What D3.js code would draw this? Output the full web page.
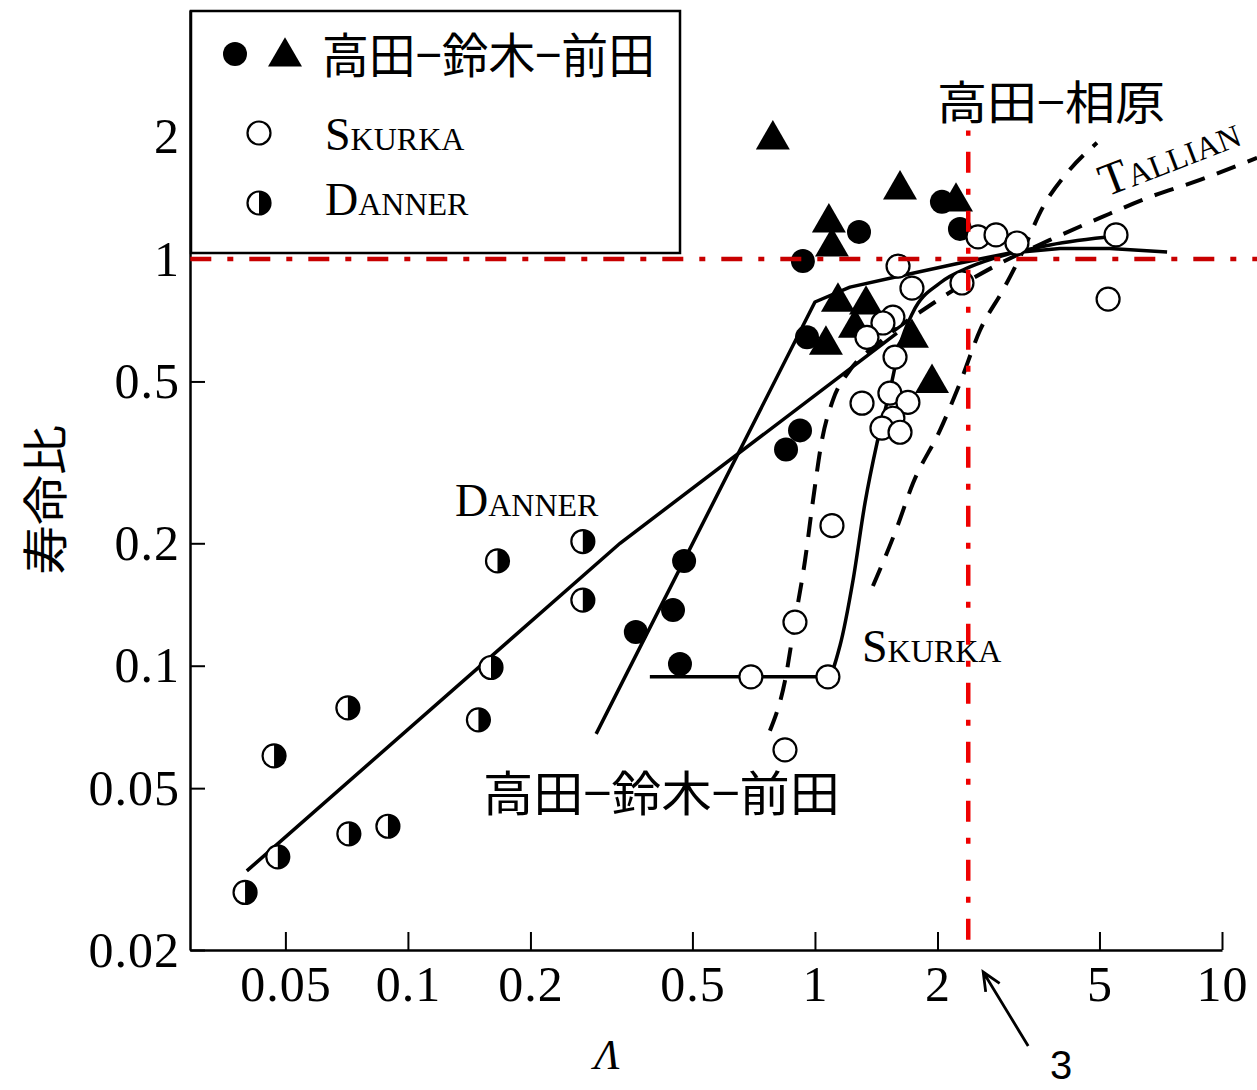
<!DOCTYPE html>
<html><head><meta charset="utf-8">
<script src="https://cdn.jsdelivr.net/npm/d3@7"></script>
<style>body{margin:0;background:#fff}svg{display:block}</style>
</head><body>
<svg id="chart" width="1257" height="1090"></svg>
<script>
// ---------- data ----------
const xTicks = [0.05, 0.1, 0.2, 0.5, 1, 2, 5, 10];
const yTicks = [0.02, 0.05, 0.1, 0.2, 0.5, 1, 2];

// 高田-鈴木-前田 (filled circles / filled triangles)
const tsmCircles = [[0.934,0.989],[1.283,1.166],[2.051,1.382],[2.271,1.186],[0.956,0.642],
  [0.919,0.379],[0.849,0.340],[0.477,0.181],[0.448,0.137],[0.363,0.121],[0.466,0.101]];
const tsmTriangles = [[0.788,2.02],[1.618,1.521],[2.221,1.421],[1.082,1.262],[1.101,1.101],
  [1.139,0.806],[1.335,0.793],[1.254,0.696],[1.064,0.632],[1.731,0.657],[1.939,0.509]];
// Skurka (open circles)
const skurkaPoints = [[2.515,1.133],[2.785,1.146],[3.135,1.095],[5.49,1.146],[5.25,0.797],
  [2.297,0.873],[1.60,0.961],[1.731,0.848],[1.554,0.720],[1.469,0.696],[1.342,0.642],
  [1.573,0.574],[1.528,0.468],[1.692,0.444],[1.305,0.442],[1.554,0.406],[1.461,0.384],
  [1.618,0.375],[1.101,0.221],[0.893,0.128],[0.696,0.0939],[1.076,0.0939],[0.844,0.0621]];
// Danner (half-filled circles)
const dannerPoints = [[0.269,0.202],[0.166,0.181],[0.269,0.145],[0.160,0.099],[0.149,0.0736],
  [0.0712,0.0788],[0.0469,0.060],[0.0716,0.0386],[0.0893,0.0403],[0.0479,0.0339],[0.0398,0.0277]];

// fitted curves
const dannerLine = [[0.0402,0.0313],[0.332,0.200],[1.59,0.657]];
const tsmLine = [[0.290,0.068],[1.0,0.784],[1.219,0.853],[1.618,0.908],[2.271,0.978],
  [3.013,1.035],[4.0,1.062],[5.306,1.062],[7.33,1.040]];
const skurkaLine = [[0.393,0.0939],[0.696,0.0939],[1.076,0.0939],[1.152,0.112],[1.240,0.162],
  [1.327,0.251],[1.420,0.352],[1.529,0.476],[1.618,0.614],[1.741,0.740],[2.028,0.873],
  [2.403,0.956],[2.93,1.023],[3.779,1.083],[5.49,1.139]];
const tallianCurve = [[0.775,0.0692],[0.844,0.0918],[0.893,0.129],[0.945,0.181],[0.989,0.255],
  [1.040,0.358],[1.107,0.450],[1.219,0.533],[1.444,0.625],[1.972,0.784],[2.769,0.961],
  [3.779,1.114],[5.013,1.262],[6.656,1.421],[8.83,1.565],[12.19,1.773]];
const steepDashed = [[1.388,0.157],[1.591,0.219],[1.741,0.281],[2.028,0.379],[2.271,0.495],
  [2.544,0.668],[2.897,0.839],[3.19,1.011],[3.633,1.343],[4.161,1.628],[4.93,1.931]];

// reference lines
const refH = [[0.0292,1],[12.3,1]];
const refV = [[2.38,0.0212],[2.38,2.07]];
const arrowTarget = [2.59, 0.02];

// ---------- chart ----------
const svg = d3.select("#chart");
const x = d3.scaleLog().domain([0.02915, 10]).range([190, 1222]);
const y = d3.scaleLog().domain([0.02, 4.095]).range([950, 10]);
const serif = "'Liberation Serif','DejaVu Serif',serif";
const cjk = "'Noto Sans CJK JP','Noto Sans CJK SC',sans-serif";

// axes
const gx = svg.append("g").attr("transform", `translate(0,${y(0.02)})`)
  .call(d3.axisBottom(x).tickValues(xTicks).tickFormat(d => String(d))
    .tickSize(-18).tickSizeOuter(0).tickPadding(15));
const gy = svg.append("g").attr("transform", `translate(${x(x.domain()[0])},0)`)
  .call(d3.axisLeft(y).tickValues(yTicks).tickFormat(d => String(d))
    .tickSize(-15).tickSizeOuter(0).tickPadding(10));
[gx, gy].forEach(g => {
  g.select(".domain").attr("stroke", "#000").attr("stroke-width", 2.5);
  g.selectAll(".tick line").attr("stroke", "#000").attr("stroke-width", 2);
  g.selectAll(".tick text").attr("font-family", serif).attr("font-size", 50)
    .attr("fill", "#000").attr("letter-spacing", 1);
});

// curves
const line = d3.line().x(d => x(d[0])).y(d => y(d[1]));
const smooth = d3.line().x(d => x(d[0])).y(d => y(d[1])).curve(d3.curveMonotoneX);
svg.append("path").attr("d", line(dannerLine)).attr("fill", "none").attr("stroke", "#000").attr("stroke-width", 3.5);
svg.append("path").attr("d", line(tsmLine)).attr("fill", "none").attr("stroke", "#000")
  .attr("stroke-width", 3.5).attr("stroke-linejoin", "round");
svg.append("path").attr("d", smooth(skurkaLine)).attr("fill", "none").attr("stroke", "#000").attr("stroke-width", 3.5);
svg.append("path").attr("d", smooth(tallianCurve)).attr("fill", "none").attr("stroke", "#000")
  .attr("stroke-width", 4).attr("stroke-dasharray", "20,13");
svg.append("path").attr("d", smooth(steepDashed)).attr("fill", "none").attr("stroke", "#000")
  .attr("stroke-width", 4).attr("stroke-dasharray", "20,13");

// markers
const tri = d3.symbol(d3.symbolTriangle).size(500)();
function drawTri(g, cx, cy) {
  g.append("path").attr("d", tri).attr("transform", `translate(${cx},${cy + 4.8})`).attr("fill", "#000");
}
function drawHalf(g, cx, cy, r) {
  g.append("circle").attr("cx", cx).attr("cy", cy).attr("r", r).attr("fill", "#fff")
    .attr("stroke", "#000").attr("stroke-width", 2.2);
  g.append("path").attr("d", `M${cx},${cy - r}A${r},${r} 0 0 1 ${cx},${cy + r}Z`).attr("fill", "#000");
}
const gm = svg.append("g");
tsmTriangles.forEach(d => drawTri(gm, x(d[0]), y(d[1])));
gm.selectAll(".fc").data(tsmCircles).join("circle").attr("class", "fc")
  .attr("cx", d => x(d[0])).attr("cy", d => y(d[1])).attr("r", 12).attr("fill", "#000");
dannerPoints.forEach(d => drawHalf(gm, x(d[0]), y(d[1]), 11.5));
gm.selectAll(".oc").data(skurkaPoints).join("circle").attr("class", "oc")
  .attr("cx", d => x(d[0])).attr("cy", d => y(d[1])).attr("r", 11.5)
  .attr("fill", "#fff").attr("stroke", "#000").attr("stroke-width", 2.2);

// red reference lines
svg.append("path").attr("d", line(refH)).attr("stroke", "#c80000").attr("stroke-width", 4.5)
  .attr("fill", "none").attr("stroke-dasharray", "21,16,6,16");
svg.append("path").attr("d", line(refV)).attr("stroke", "#ee0000").attr("stroke-width", 4.5)
  .attr("fill", "none").attr("stroke-dasharray", "21,16,6,16");

// small caps helper
function smallCaps(parent, px, py, first, rest, F, f, rot) {
  const t = parent.append("text").attr("font-family", serif).attr("fill", "#000");
  if (rot) t.attr("transform", `translate(${px},${py}) rotate(${rot})`);
  else t.attr("x", px).attr("y", py);
  t.append("tspan").attr("font-size", F).text(first);
  t.append("tspan").attr("font-size", f).text(rest);
  return t;
}

// curve labels
smallCaps(svg, 455, 516, "D", "ANNER", 46, 32);
smallCaps(svg, 862, 662, "S", "KURKA", 46, 32);
smallCaps(svg, 1106, 197, "T", "ALLIAN", 46, 32, -21);
svg.append("text").attr("x", 483).attr("y", 790).attr("dominant-baseline", "central")
  .attr("font-family", cjk).attr("font-size", 48).attr("textLength", 357)
  .attr("lengthAdjust", "spacingAndGlyphs").text("高田−鈴木−前田");
svg.append("text").attr("x", 937).attr("y", 99).attr("dominant-baseline", "central")
  .attr("font-family", cjk).attr("font-size", 46).attr("textLength", 228)
  .attr("lengthAdjust", "spacingAndGlyphs").text("高田−相原");

// axis titles
svg.append("text").attr("transform", "translate(42,500) rotate(-90)").attr("text-anchor", "middle")
  .attr("dominant-baseline", "central").attr("font-family", cjk).attr("font-size", 46)
  .attr("textLength", 150).attr("lengthAdjust", "spacingAndGlyphs").text("寿命比");
svg.append("text").attr("x", 607).attr("y", 1069).attr("text-anchor", "middle")
  .attr("font-family", serif).attr("font-style", "italic").attr("font-size", 42).text("Λ");

// arrow annotation "3"
const tipX = x(arrowTarget[0]), tipY = y(arrowTarget[1]) + 22;
const tailX = tipX + 45, tailY = tipY + 74;
const ang = Math.atan2(tipY - tailY, tipX - tailX);
const hl = 20, ha = 0.42;
svg.append("path")
  .attr("d", `M${tailX},${tailY}L${tipX},${tipY}` +
    `M${tipX - hl * Math.cos(ang - ha)},${tipY - hl * Math.sin(ang - ha)}L${tipX},${tipY}` +
    `L${tipX - hl * Math.cos(ang + ha)},${tipY - hl * Math.sin(ang + ha)}`)
  .attr("fill", "none").attr("stroke", "#000").attr("stroke-width", 2.8);
svg.append("text").attr("x", tailX + 33).attr("y", 1079).attr("text-anchor", "middle")
  .attr("font-family", "'Liberation Sans',Arial,sans-serif").attr("font-size", 40).text("3");

// legend
const lg = svg.append("g");
lg.append("rect").attr("x", 191).attr("y", 11).attr("width", 489).attr("height", 242)
  .attr("fill", "#fff").attr("stroke", "#000").attr("stroke-width", 2.5);
lg.append("circle").attr("cx", 235).attr("cy", 54).attr("r", 12).attr("fill", "#000");
drawTri(lg, 285, 52);
lg.append("text").attr("x", 322).attr("y", 52).attr("dominant-baseline", "central")
  .attr("font-family", cjk).attr("font-size", 48).attr("textLength", 333)
  .attr("lengthAdjust", "spacingAndGlyphs").text("高田−鈴木−前田");
lg.append("circle").attr("cx", 259).attr("cy", 133).attr("r", 11.5).attr("fill", "#fff")
  .attr("stroke", "#000").attr("stroke-width", 2.2);
smallCaps(lg, 325, 150, "S", "KURKA", 46, 32);
drawHalf(lg, 259, 203, 11.5);
smallCaps(lg, 325, 215, "D", "ANNER", 46, 32);
</script>
</body></html>
